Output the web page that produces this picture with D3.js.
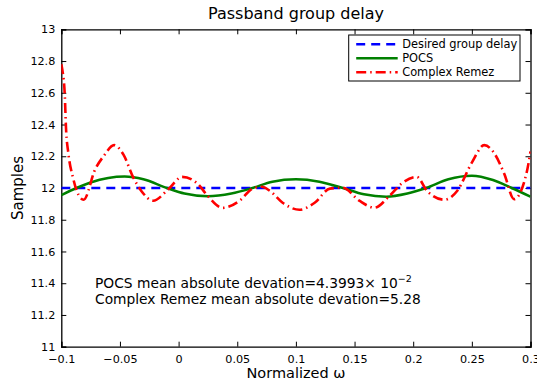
<!DOCTYPE html>
<html>
<head>
<meta charset="utf-8">
<script src="https://cdn.jsdelivr.net/npm/d3@7"></script>
<style>
  body { margin: 0; background: #fff; }
  svg { display: block; font-family: "DejaVu Sans", sans-serif; }
</style>
</head>
<body>
<svg id="chart"></svg>
<script>
// values
const xTicks = [-0.1, -0.05, 0, 0.05, 0.1, 0.15, 0.2, 0.25, 0.3];
const yTicks = [11, 11.2, 11.4, 11.6, 11.8, 12, 12.2, 12.4, 12.6, 12.8, 13];

const desiredW = [-0.1, 0.3];
const desiredD = [12, 12];

const pocsW = [-0.1, -0.087, -0.075, -0.06, -0.046, -0.03, -0.01, 0.005, 0.025, 0.045, 0.063, 0.08,
  0.1, 0.12, 0.14, 0.158, 0.177, 0.195, 0.211, 0.23, 0.25, 0.268, 0.284, 0.3];
const pocsD = [11.955, 12.0, 12.035, 12.063, 12.072, 12.055, 12.0, 11.965, 11.948, 11.965, 12.0, 12.04,
  12.055, 12.04, 12.0, 11.96, 11.945, 11.965, 12.0, 12.055, 12.077, 12.05, 12.0, 11.945];

const remezW = [-0.1, -0.099, -0.097, -0.096, -0.094, -0.09, -0.0867, -0.081, -0.071, -0.064, -0.055,
  -0.047, -0.0387, -0.0316, -0.0217, -0.009, 0.003, 0.0163, 0.0248, 0.0376, 0.052, 0.063, 0.0709,
  0.0776, 0.0887, 0.103, 0.116, 0.129, 0.14, 0.154, 0.167, 0.18, 0.19, 0.203, 0.212, 0.2266,
  0.2376, 0.25, 0.2606, 0.269, 0.2776, 0.286, 0.2965, 0.3];
const remezD = [12.78, 12.74, 12.58, 12.38, 12.22, 12.065, 11.98, 11.926, 12.12, 12.2, 12.27,
  12.21, 12.067, 11.98, 11.92, 11.99, 12.07, 12.026, 11.95, 11.875, 11.92, 11.996, 12.008,
  11.983, 11.907, 11.863, 11.907, 11.996, 12.002, 11.92, 11.876, 11.952, 12.027, 12.07, 11.98, 11.926,
  11.983, 12.16, 12.27, 12.22, 12.09, 11.93, 12.09, 12.23];

const width = 537, height = 382;
const margin = { top: 29.3, right: 6.5, bottom: 35.3, left: 61.3 };

const svg = d3.select('#chart')
  .attr('width', width)
  .attr('height', height)
  .attr('viewBox', `0 0 ${width} ${height}`);

const x = d3.scaleLinear().domain([-0.1, 0.3]).range([margin.left, width - margin.right]);
const y = d3.scaleLinear().domain([11, 13]).range([height - margin.bottom, margin.top]);

svg.append('defs').append('clipPath').attr('id', 'plot-clip')
  .append('rect')
  .attr('x', x(-0.1)).attr('y', y(13))
  .attr('width', x(0.3) - x(-0.1)).attr('height', y(11) - y(13));

// axes, MATLAB style: ticks inward, box all round
const fmt = d => d3.format('')(d).replace('-', '\u2212');
const tickLen = 5;

const gx = svg.append('g')
  .attr('transform', `translate(0,${y(11)})`)
  .call(d3.axisBottom(x).tickValues(xTicks).tickSize(-tickLen).tickPadding(8).tickFormat(fmt));
const gxTop = svg.append('g')
  .attr('transform', `translate(0,${y(13)})`)
  .call(d3.axisTop(x).tickValues(xTicks).tickSize(-tickLen).tickFormat(''));
const gy = svg.append('g')
  .attr('transform', `translate(${x(-0.1)},0)`)
  .call(d3.axisLeft(y).tickValues(yTicks).tickSize(-tickLen).tickPadding(6).tickFormat(fmt));
const gyRight = svg.append('g')
  .attr('transform', `translate(${x(0.3)},0)`)
  .call(d3.axisRight(y).tickValues(yTicks).tickSize(-tickLen).tickFormat(''));

[gx, gxTop, gy, gyRight].forEach(g => {
  g.select('.domain').attr('stroke', '#000').attr('stroke-width', 1.3);
  g.selectAll('.tick line').attr('stroke', '#000').attr('stroke-width', 1);
  g.selectAll('text').attr('font-family', '"DejaVu Sans", sans-serif')
    .attr('font-size', 11.2).attr('fill', '#000');
});

// series
const plot = svg.append('g').attr('clip-path', 'url(#plot-clip)');

const lineFor = (ws, curve) => d3.line()
  .x((d, i) => x(ws[i]))
  .y(d => y(d))
  .curve(curve);

plot.append('path')
  .datum(desiredD)
  .attr('fill', 'none')
  .attr('stroke', '#0000ff')
  .attr('stroke-width', 2.5)
  .attr('stroke-dasharray', '9,6')
  .attr('d', lineFor(desiredW, d3.curveLinear));

plot.append('path')
  .datum(pocsD)
  .attr('fill', 'none')
  .attr('stroke', '#008000')
  .attr('stroke-width', 2.5)
  .attr('d', lineFor(pocsW, d3.curveMonotoneX));

plot.append('path')
  .datum(remezD)
  .attr('fill', 'none')
  .attr('stroke', '#ff0000')
  .attr('stroke-width', 2.6)
  .attr('stroke-dasharray', '10,4,1.5,4')
  .attr('d', lineFor(remezW, d3.curveMonotoneX));

// title and axis labels
svg.append('text')
  .attr('x', 296).attr('y', 18.5)
  .attr('text-anchor', 'middle')
  .attr('font-size', 16)
  .text('Passband group delay');

svg.append('text')
  .attr('x', 296).attr('y', 378)
  .attr('text-anchor', 'middle')
  .attr('font-size', 14.5)
  .text('Normalized \u03c9');

svg.append('text')
  .attr('transform', 'rotate(-90)')
  .attr('x', -188).attr('y', 22.5)
  .attr('text-anchor', 'middle')
  .attr('font-size', 15)
  .text('Samples');

// legend
const legendItems = [
  { label: 'Desired group delay', color: '#0000ff', dash: '9,6' },
  { label: 'POCS', color: '#008000', dash: null },
  { label: 'Complex Remez', color: '#ff0000', dash: '10,4,1.5,4' }
];
const legend = svg.append('g').attr('transform', 'translate(348.7,35)');
legend.append('rect')
  .attr('width', 171.3).attr('height', 46)
  .attr('fill', '#fff')
  .attr('stroke', '#000')
  .attr('stroke-width', 1);
legendItems.forEach((it, i) => {
  const ly = 9.3 + i * 14;
  legend.append('line')
    .attr('x1', 7.5).attr('x2', 49)
    .attr('y1', ly).attr('y2', ly)
    .attr('stroke', it.color)
    .attr('stroke-width', 2.5)
    .attr('stroke-dasharray', it.dash);
  legend.append('text')
    .attr('x', 53.5).attr('y', ly + 4)
    .attr('font-size', 11.4)
    .text(it.label);
});

// annotation
const note = svg.append('text')
  .attr('x', 95).attr('y', 288)
  .attr('font-size', 13.8);
note.append('tspan').text('POCS mean absolute devation=4.3993\u00d7 10');
note.append('tspan').attr('dy', -6).attr('font-size', 9.5).text('\u22122');

svg.append('text')
  .attr('x', 95).attr('y', 304)
  .attr('font-size', 13.8)
  .text('Complex Remez mean absolute devation=5.28');
</script>
</body>
</html>
